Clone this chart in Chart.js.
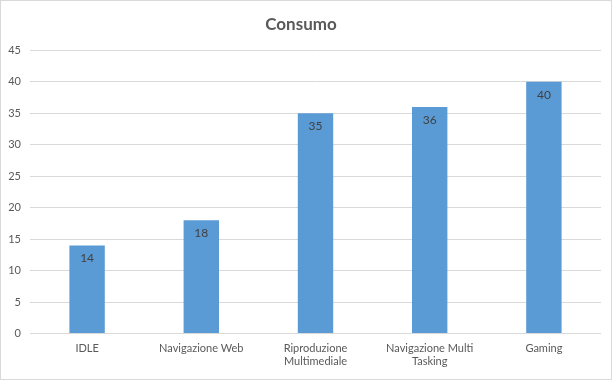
<!DOCTYPE html>
<html>
<head>
<meta charset="utf-8">
<script src="https://cdn.jsdelivr.net/npm/chart.js@4/dist/chart.umd.min.js"></script>
<style>
  html, body { margin: 0; padding: 0; background: #fff; }
  #wrap { position: relative; width: 612px; height: 380px; box-sizing: border-box; border: 1px solid #d9d9d9; }
  canvas { display: block; }
</style>
</head>
<body>
<div id="wrap"><canvas id="c" width="610" height="378"></canvas></div>
<script>
// Power draw per usage scenario
const categories = ["IDLE", "Navigazione Web", ["Riproduzione", "Multimediale"], ["Navigazione Multi", "Tasking"], "Gaming"];
const consumo = [14, 18, 35, 36, 40];
const yTicks = [0, 5, 10, 15, 20, 25, 30, 35, 40, 45];

const FONT = "Lato, 'Open Sans', sans-serif";

// Writes each bar's value just inside its top edge
const valueLabels = {
  id: 'valueLabels',
  afterDatasetsDraw(chart) {
    const ctx = chart.ctx;
    const meta = chart.getDatasetMeta(0);
    ctx.save();
    ctx.font = "12px " + FONT;
    ctx.fillStyle = "#404040";
    ctx.textAlign = "center";
    ctx.textBaseline = "middle";
    meta.data.forEach((bar, i) => {
      ctx.fillText(String(consumo[i]), bar.x, bar.y + 13);
    });
    ctx.restore();
  }
};

new Chart(document.getElementById('c'), {
  type: 'bar',
  data: {
    labels: categories,
    datasets: [{
      label: 'Consumo',
      data: consumo,
      backgroundColor: '#5B9BD5',
      borderWidth: 0,
      categoryPercentage: 1,
      barPercentage: 0.31
    }]
  },
  options: {
    responsive: false,
    animation: false,
    events: [],
    layout: { padding: { left: 0, right: 10, top: 0, bottom: 3 } },
    plugins: {
      legend: { display: false },
      tooltip: { enabled: false },
      title: {
        display: true,
        text: 'Consumo',
        color: '#595959',
        font: { family: FONT, size: 17, weight: 'bold' },
        padding: { top: 13, bottom: 16 }
      }
    },
    scales: {
      x: {
        grid: { display: false, drawTicks: false },
        border: { display: false },
        ticks: {
          color: '#595959',
          font: { family: FONT, size: 11 },
          maxRotation: 0,
          autoSkip: false,
          padding: 8
        }
      },
      y: {
        min: 0,
        max: 45,
        afterBuildTicks(scale) { scale.ticks = yTicks.map(v => ({ value: v })); },
        afterFit(scale) { scale.width = 29; },
        grid: { color: '#d9d9d9', drawTicks: false },
        border: { display: false },
        ticks: {
          color: '#595959',
          font: { family: FONT, size: 11 },
          padding: 9
        }
      }
    }
  },
  plugins: [valueLabels]
});
</script>
</body>
</html>
